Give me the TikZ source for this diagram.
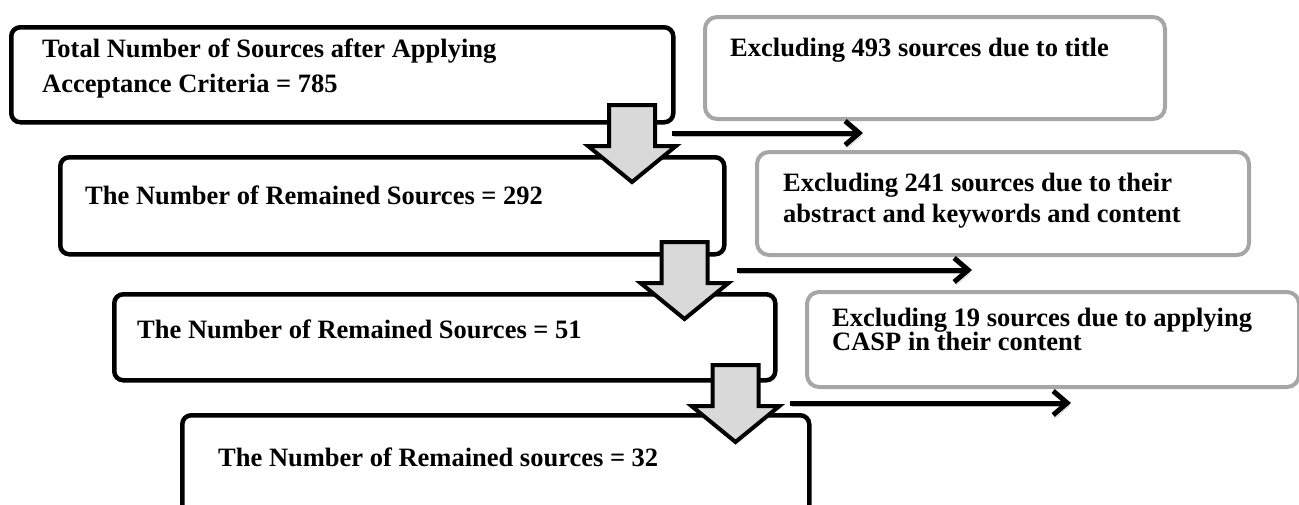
\documentclass[tikz,border=0pt]{standalone}
\usepackage{fontspec}
\setmainfont{Liberation Serif}
\usepackage{xcolor}
\usepackage{tikz}
\usetikzlibrary{arrows.meta}
\definecolor{boxgray}{HTML}{A6A6A6}
\definecolor{arrowfill}{HTML}{D9D9D9}
\tikzset{
    mainbox/.style = {draw=black, line width=4.5pt, rounded corners=9pt, anchor=north west, inner sep=0pt},
    exbox/.style = {draw=boxgray, line width=4pt, rounded corners=12pt, anchor=north west, inner sep=0pt},
    btext/.style = {inner sep=0pt, align=left, font=\fontsize{26.5}{35}\selectfont\bfseries},
    exarrow/.style = {line width=5pt, -{Straight Barb[length=14pt, width=24pt]},
                      preaction={draw=gray!55, transform canvas={shift={(2pt,-3pt)}}}},
    downarrow/.pic = {
        \draw[line width=4pt, fill=arrowfill, line join=miter]
            (-23,0) -- (23,0) -- (23,41) -- (44,41) -- (0,77) -- (-44,41) -- (-23,41) -- cycle;
    }
}
\begin{document}
\begin{tikzpicture}[x=1pt, y=-1pt]
    \useasboundingbox (0,0) rectangle (1299,504);

    % remaining sources
    \node[mainbox, minimum width=662pt, minimum height=95pt] (total) at (9,25) {};
    \node[mainbox, minimum width=664pt, minimum height=97pt] (rem1) at (58,155) {};
    \node[mainbox, minimum width=661pt, minimum height=86pt] (rem2) at (112,292) {};
    \node[mainbox, minimum width=627pt, minimum height=130pt] (rem3) at (180,413) {};

    \node[btext, anchor=west] (totaltxt) at (42,68.6)
        {Total Number of Sources after Applying\\Acceptance Criteria = 785};
    \node[btext, anchor=base west] (rem1txt) at (85,204) {The Number of Remained Sources = 292};
    \node[btext, anchor=base west] (rem2txt) at (137,338) {The Number of Remained Sources = 51};
    \node[btext, anchor=base west] (rem3txt) at (218,466) {The Number of Remained sources = 32};

    % excluded sources
    \node[exbox, minimum width=460pt, minimum height=102pt] (ex1) at (703,15) {};
    \node[exbox, minimum width=492pt, minimum height=103pt] (ex2) at (755,150) {};
    \node[exbox, minimum width=492pt, minimum height=95pt] (ex3) at (805,290) {};

    \node[btext, anchor=base west] (ex1txt) at (730,56) {Excluding 493 sources due to title};
    \node[btext, anchor=west, font=\fontsize{26.5}{31}\selectfont\bfseries] (ex2txt) at (783,200.9)
        {Excluding 241 sources due to their\\abstract and keywords and content};
    \node[btext, anchor=west, font=\fontsize{26.5}{24.5}\selectfont\bfseries] (ex3txt) at (832,329.4)
        {Excluding 19 sources due to applying\\CASP in their content};

    % block arrows
    \pic (down1) at (632,105) {downarrow};
    \pic (down2) at (684.5,242) {downarrow};
    \pic (down3) at (735.5,365) {downarrow};

    % side arrows
    \coordinate (x1a) at (672,133);
    \coordinate (x1b) at (863,133);
    \coordinate (x2a) at (737,270);
    \coordinate (x2b) at (972,270);
    \coordinate (x3a) at (790,403);
    \coordinate (x3b) at (1071,403);
    \draw[exarrow] (x1a) -- (x1b);
    \draw[exarrow] (x2a) -- (x2b);
    \draw[exarrow] (x3a) -- (x3b);
\end{tikzpicture}
\end{document}
